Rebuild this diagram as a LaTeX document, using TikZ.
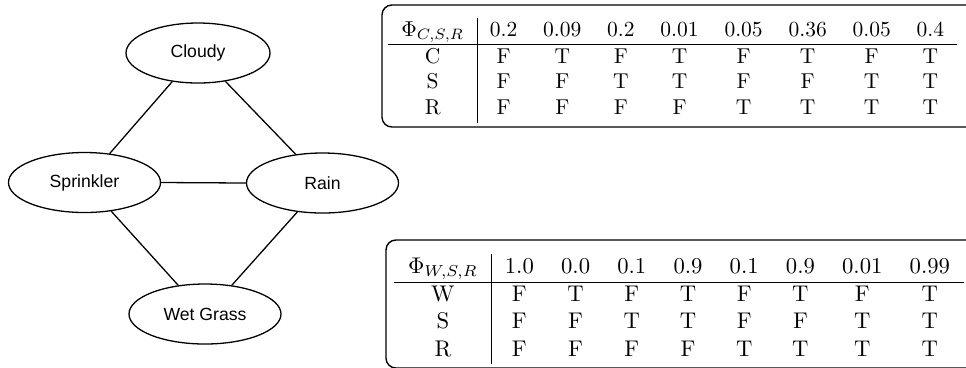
\documentclass[tikz,border=0pt]{standalone}
\usepackage{fontspec}
\setsansfont{Liberation Sans}
\usetikzlibrary{shapes.geometric}

% one drawing unit
\newdimen\pxu \pxu=0.4651pt

\begin{document}
\begin{tikzpicture}[x=0.4651pt, y=-0.4651pt,
  var/.style={ellipse, draw, line width=0.6pt, inner sep=0pt,
    minimum width=152\pxu, minimum height=60\pxu,
    font=\sffamily\fontsize{8.2}{10}\selectfont},
  link/.style={line width=0.6pt},
  frame/.style={draw, line width=0.65pt, rounded corners=4.6pt},
  factor/.style={anchor=north west, inner sep=0pt}]
\useasboundingbox (0,0) rectangle (966,367);

% Markov network
\node[var, minimum width=144\pxu] (cloudy) at (198,53) {Cloudy};
\node[var] (sprinkler) at (84.5,182.5) {Sprinkler};
\node[var] (rain) at (322.5,183) {Rain};
\node[var] (wet) at (205,314) {Wet Grass};

\draw[link] (cloudy.228) -- (sprinkler.49);
\draw[link] (cloudy.314) -- (rain.133);
\draw[link] (sprinkler.east) -- (rain.west);
\draw[link] (sprinkler.313) -- (wet.133);
\draw[link] (rain.229) -- (wet.47);

% factor over C, S, R
\draw[frame] (382,5) rectangle (990,127);
\node[factor] (phicsr) at (388,18) {%
\begin{tabular}{c|cccccccc}
$\Phi_{C,S,R}$ & 0.2 & 0.09 & 0.2 & 0.01 & 0.05 & 0.36 & 0.05 & 0.4\\ \hline
C & F & T & F & T & F & T & F & T\\
S & F & F & T & T & F & F & T & T\\
R & F & F & F & F & T & T & T & T
\end{tabular}};

% factor over W, S, R
\draw[frame] (386,240) rectangle (990,368);
\node[factor] (phiwsr) at (394,254) {\scalebox{1.055}{%
\begin{tabular}{c|cccccccc}
$\Phi_{W,S,R}$ & 1.0 & 0.0 & 0.1 & 0.9 & 0.1 & 0.9 & 0.01 & 0.99\\ \hline
W & F & T & F & T & F & T & F & T\\
S & F & F & T & T & F & F & T & T\\
R & F & F & F & F & T & T & T & T
\end{tabular}}};
\end{tikzpicture}
\end{document}
